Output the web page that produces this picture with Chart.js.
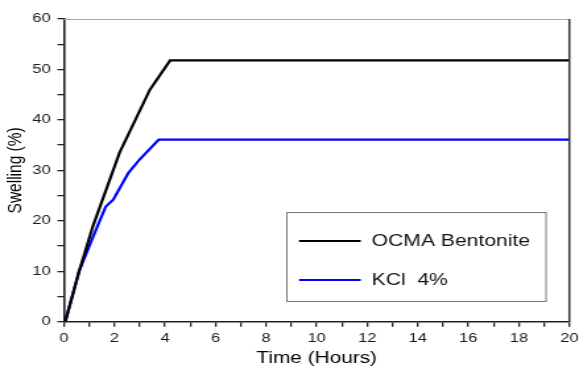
<!DOCTYPE html>
<html>
<head>
<meta charset="utf-8">
<script src="https://cdn.jsdelivr.net/npm/chart.js@4"></script>
<style>
html,body{margin:0;padding:0;background:#fff;}
#c{display:block;width:579px;height:369px;}
</style>
</head>
<body>
<canvas id="c" width="439" height="369" style="width:579px;height:369px;"></canvas>
<script>
// ---- data ----
const seriesNames = ["OCMA Bentonite", "KCl  4%"];
const ocmaTime  = [0.05, 0.6, 1.15, 2.2, 3.4, 4.2, 20];
const ocmaSwell = [0, 10, 19, 33.5, 46, 51.8, 51.8];
const kclTime   = [0.05, 0.6, 1.15, 1.65, 1.95, 2.55, 3.0, 3.75, 20];
const kclSwell  = [0, 10, 16.8, 22.8, 24.2, 29.5, 32.2, 36.1, 36.1];
const xTicks = [0, 2, 4, 6, 8, 10, 12, 14, 16, 18, 20];
const yTicks = [0, 10, 20, 30, 40, 50, 60];
const xTitle = "Time (Hours)";
const yTitle = "Swelling (%)";

const toPts = (xs, ys) => xs.map((x, i) => ({x: x, y: ys[i]}));
const FONT = '"Liberation Sans", Arial, sans-serif';

const frameAndLegend = {
  id: 'frameAndLegend',
  afterDatasetsDraw(chart) {
    const {ctx, chartArea: a} = chart;
    ctx.save();
    // top frame (light grey) and right frame (dark)
    ctx.lineWidth = 1;
    ctx.strokeStyle = '#a8a8a8';
    ctx.beginPath(); ctx.moveTo(a.left, a.top + 0.5); ctx.lineTo(a.right, a.top + 0.5); ctx.stroke();
    ctx.lineWidth = 1.5;
    ctx.strokeStyle = '#333';
    ctx.beginPath(); ctx.moveTo(a.right, a.top); ctx.lineTo(a.right, a.bottom); ctx.stroke();
    // legend box
    const bx = 217.5, by = 212.5, bw = 196.5, bh = 89;
    ctx.lineWidth = 1;
    ctx.strokeStyle = '#777';
    ctx.strokeRect(bx, by, bw, bh);
    const rows = [241, 280];
    chart.data.datasets.forEach((ds, i) => {
      const y = rows[i];
      ctx.strokeStyle = ds.borderColor;
      ctx.lineWidth = 2;
      ctx.beginPath(); ctx.moveTo(226.7, y); ctx.lineTo(273.5, y); ctx.stroke();
      ctx.fillStyle = '#111';
      ctx.font = '16px ' + FONT;
      ctx.textBaseline = 'middle';
      ctx.textAlign = 'left';
      ctx.fillText(ds.label, 281.8, y + 1);
    });
    ctx.restore();
  }
};

new Chart(document.getElementById('c'), {
  type: 'scatter',
  data: {
    datasets: [
      {label: seriesNames[0], data: toPts(ocmaTime, ocmaSwell), showLine: true,
       borderColor: '#000000', backgroundColor: '#000000', borderWidth: 2.2, pointRadius: 0, tension: 0},
      {label: seriesNames[1], data: toPts(kclTime, kclSwell), showLine: true,
       borderColor: '#0000ff', backgroundColor: '#0000ff', borderWidth: 2.2, pointRadius: 0, tension: 0}
    ]
  },
  options: {
    responsive: false,
    animation: false,
    devicePixelRatio: 1,
    layout: {padding: {top: 19, right: 7.3, bottom: 0, left: 0}},
    plugins: {legend: {display: false}, tooltip: {enabled: false}},
    scales: {
      x: {
        type: 'linear', min: 0, max: 20,
        afterFit(s) { s.height = 47.3; s.paddingRight = 0; },
        grid: {drawOnChartArea: false, drawTicks: true, tickLength: 5, color: '#222', lineWidth: 1.3},
        border: {display: true, color: '#222', width: 1.6},
        ticks: {stepSize: 1, autoSkip: false, maxRotation: 0, padding: 4, color: '#1a1a1a',
                font: {family: FONT, size: 12.5},
                callback: v => xTicks.includes(v) ? String(v) : ''},
        title: {display: true, text: xTitle, color: '#000', padding: {top: 0, bottom: 1},
                font: {family: FONT, size: 15.8}}
      },
      y: {
        type: 'linear', min: 0, max: 60,
        afterFit(s) { s.width = 48.5; },
        grid: {drawOnChartArea: false, drawTicks: true, tickLength: 5, color: '#222', lineWidth: 1.3},
        border: {display: true, color: '#222', width: 1.6},
        ticks: {stepSize: 5, autoSkip: false, padding: 5, color: '#1a1a1a',
                font: {family: FONT, size: 12.5},
                callback: v => yTicks.includes(v) ? String(v) : ''},
        title: {display: true, text: yTitle, color: '#000', padding: {top: 2.4, bottom: 0},
                font: {family: FONT, size: 15.5}}
      }
    }
  },
  plugins: [frameAndLegend]
});
</script>
</body>
</html>
